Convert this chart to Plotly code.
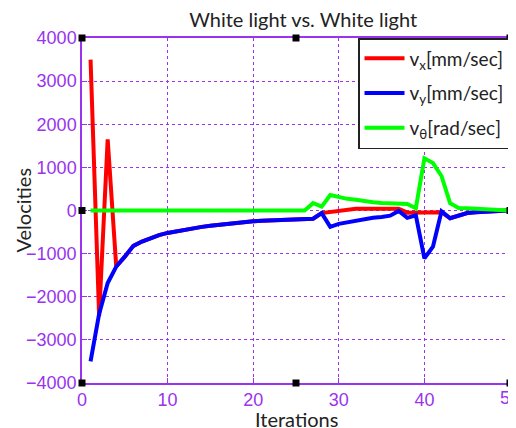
import plotly.graph_objects as go

iterations = list(range(1, 51))

v_y = [-3500, -2400, -1680, -1300, -1070, -820, -720, -640, -570, -520,
       -480, -440, -410, -380, -355, -330, -310, -290, -270, -250,
       -240, -230, -220, -210, -205, -200, -190, -60, -380, -310,
       -270, -230, -200, -170, -150, -120, -10, -170, -110, -1110,
       -840, -20, -180, -110, -60, -40, -30, -20, -10, 0]

v_x = [3500, -2450, 1650, -1300, -1070, -820, -720, -640, -570, -520,
       -480, -440, -410, -380, -355, -330, -310, -290, -270, -250,
       -240, -230, -220, -210, -205, -200, -190, -60, -30, 0,
       30, 40, 40, 40, 40, 40, 40, -50, -50, -50,
       -50, -40, -180, -110, -60, -40, -30, -20, -10, 0]

v_theta = [0] * 26 + [170, 90, 360, 310, 270, 250, 210, 190, 175, 160,
                      150, 150, 50, 1210, 1100, 800, 170, 60, 50, 40,
                      20, 10, 0, 0]

names = ["v<sub>x</sub>[mm/sec]", "v<sub>y</sub>[mm/sec]", "v<sub>θ</sub>[rad/sec]"]
colors = ["#ff0000", "#0000ff", "#00ff00"]

x_ticks = [0, 10, 20, 30, 40, 50]
y_ticks = [-4000, -3000, -2000, -1000, 0, 1000, 2000, 3000, 4000]

purple = "#9933ee"
ink = "#222222"

fig = go.Figure()
for i, (vals, name, col) in enumerate(zip([v_x, v_y, v_theta], names, colors)):
    fig.add_trace(go.Scatter(x=iterations, y=vals, mode="lines", name=name,
                             legendgroup=f"g{i}",
                             line=dict(color=col, width=4)))

# the page body has an 8px margin, so the figure is 8px smaller and shifted
fig.update_layout(
    width=508, height=420,
    margin=dict(l=74, r=6, t=30, b=45, autoexpand=False),
    paper_bgcolor="white", plot_bgcolor="white",
    title=dict(text="White light vs. White light", x=0.581, xanchor="center",
               y=0.972, yanchor="middle",
               font=dict(family="Lato", size=20, color=ink)),
    legend=dict(x=1, xanchor="right", y=1, yanchor="top",
                bgcolor="white", bordercolor=ink, borderwidth=1.5,
                font=dict(family="Lato", size=19, color=ink),
                tracegroupgap=7, itemwidth=40),
    showlegend=True,
)

tick_font = dict(family="Liberation Sans", size=18, color=purple)
axis_common = dict(
    showgrid=True, gridcolor=purple, griddash="3px,3px", gridwidth=1,
    showline=True, linecolor=purple, linewidth=1.5, mirror=True,
    ticks="inside", tickcolor=purple, ticklen=5,
    tickfont=tick_font,
    zeroline=False, automargin=False,
)
fig.update_xaxes(range=[0, 50], tickvals=x_ticks, **axis_common)
fig.update_yaxes(range=[-4000, 4000], tickvals=y_ticks, **axis_common)

# last x tick label sits on the page edge (plotly hides it), draw it explicitly
fig.add_annotation(text=str(x_ticks[-1]), xref="x", yref="paper", x=x_ticks[-1], y=0,
                   yshift=-15, xanchor="center", yanchor="middle", showarrow=False,
                   font=tick_font)

fig.add_annotation(text="Iterations", xref="paper", yref="paper", x=0.5, y=0,
                   yshift=-36, xanchor="center", yanchor="middle", showarrow=False,
                   font=dict(family="Lato", size=20, color=ink))
fig.add_annotation(text="Velocities", xref="paper", yref="paper", x=0, y=0.5,
                   xshift=-60, textangle=-90, xanchor="center", yanchor="middle",
                   showarrow=False,
                   font=dict(family="Lato", size=20, color=ink))

# selection handles at corners and midpoints of the axes box
for px, py in [(0, 1), (0.5, 1), (1, 1), (0, 0.5), (1, 0.5), (0, 0), (0.5, 0), (1, 0)]:
    fig.add_shape(type="rect", xref="paper", yref="paper",
                  xsizemode="pixel", ysizemode="pixel",
                  xanchor=px, yanchor=py, x0=-3.5, x1=3.5, y0=-3.5, y1=3.5,
                  fillcolor="black", line=dict(color="black", width=0))

fig.write_html("out.html")
